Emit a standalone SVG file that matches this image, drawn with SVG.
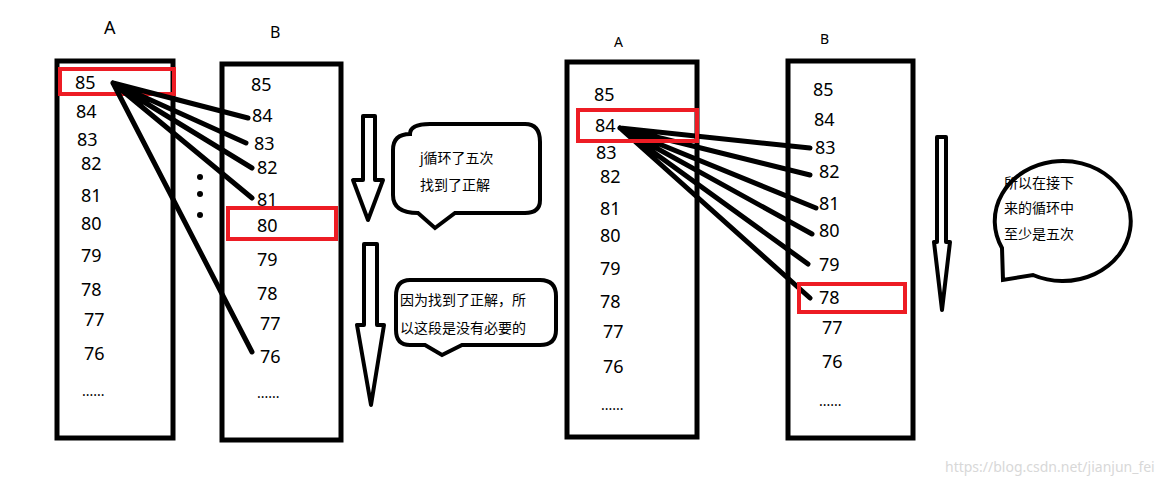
<svg xmlns="http://www.w3.org/2000/svg" width="1167" height="484" viewBox="0 0 1167 484">
<style>
text{font-family:"Noto Sans","Noto Sans CJK SC",sans-serif;fill:#000}
.n{font-size:18px}
.c{font-size:14px}
.box{fill:none;stroke:#000;stroke-width:5}
.red{fill:none;stroke:#ed1c24;stroke-width:4}
.ln{stroke:#000;stroke-width:5;stroke-linecap:round;fill:none}
.ar{fill:#fff;stroke:#000;stroke-width:4;stroke-linejoin:round}
</style>
<rect width="1167" height="484" fill="#fff"/>
<g id="left-A">
<text x="104" y="34" class="n">A</text>
<rect class="box" x="57" y="61" width="116" height="377"/>
<text class="n" x="75" y="89">85</text><text class="n" x="76" y="118">84</text><text class="n" x="77" y="146">83</text><text class="n" x="81" y="170">82</text><text class="n" x="81" y="202">81</text><text class="n" x="81" y="230">80</text><text class="n" x="81" y="262">79</text><text class="n" x="81" y="296">78</text><text class="n" x="84" y="326">77</text><text class="n" x="84" y="360">76</text><text class="c" x="82" y="396">......</text>
<rect class="red" x="60" y="69" width="114" height="25"/>
</g>
<g id="left-B">
<text x="270" y="38" font-size="16">B</text>
<rect class="box" x="222" y="64" width="119" height="376"/>
<text class="n" x="251" y="91">85</text><text class="n" x="252" y="122">84</text><text class="n" x="254" y="150">83</text><text class="n" x="257" y="174">82</text><text class="n" x="257" y="206">81</text><text class="n" x="257" y="232">80</text><text class="n" x="257" y="266">79</text><text class="n" x="257" y="300">78</text><text class="n" x="260" y="330">77</text><text class="n" x="260" y="363">76</text><text class="c" x="257" y="398">......</text>
<rect class="red" x="228" y="208" width="108" height="31"/>
</g>
<g id="dots"><circle cx="200" cy="177" r="3"/><circle cx="200" cy="194" r="3"/><circle cx="200" cy="215" r="3"/></g>
<g id="connectors">
<path class="ln" d="M113 83L248 118M113 83L246 143M113 83L252 168M113 83L252 198M113 83L252 352"/>
<path class="ln" d="M620 128L810 148M620 128L810 175M620 128L816 208M620 128L812 234M620 128L808 264M620 128L810 298"/>
<path class="ar" d="M363 116H375V180H383L368 220L353 180H363Z"/>
<path class="ar" d="M364 244H377V325H384L371 405L357 325H364Z"/>
<path class="ar" d="M937 137H946V242H950L942 310L934 242H937Z"/>
</g>
<g id="bubble1">
<path class="box" style="stroke-width:4" d="M410 134Q410 124 430 124H525Q540 124 540 142V200Q540 213 525 213H455L435 228L418 213Q393 213 393 195V150Q393 134 410 134Z"/>
<text class="c" x="420" y="163">j循环了五次</text><text class="c" x="420" y="190">找到了正解</text>
</g>
<g id="bubble2">
<path class="box" style="stroke-width:4" d="M410 280H540Q556 280 556 296V330Q556 345 540 345H462L442 355L425 345H410Q396 345 396 330V296Q396 280 410 280Z"/>
<text class="c" x="400" y="305">因为找到了正解，所</text><text class="c" x="400" y="333">以这段是没有必要的</text>
</g>
<g id="right-A">
<text x="614" y="47" font-size="14">A</text>
<rect class="box" x="567" y="62" width="130" height="375"/>
<text class="n" x="594" y="101">85</text><text class="n" x="595" y="132">84</text><text class="n" x="596" y="159">83</text><text class="n" x="600" y="183">82</text><text class="n" x="600" y="215">81</text><text class="n" x="600" y="242">80</text><text class="n" x="600" y="275">79</text><text class="n" x="600" y="308">78</text><text class="n" x="603" y="338">77</text><text class="n" x="603" y="373">76</text><text class="c" x="601" y="410">......</text>
<rect class="red" x="578" y="110" width="119" height="31"/>
</g>
<g id="right-B">
<text x="820" y="44" font-size="14">B</text>
<rect class="box" x="788" y="61" width="125" height="377"/>
<text class="n" x="813" y="96">85</text><text class="n" x="814" y="126">84</text><text class="n" x="815" y="154">83</text><text class="n" x="819" y="178">82</text><text class="n" x="819" y="210">81</text><text class="n" x="819" y="237">80</text><text class="n" x="819" y="271">79</text><text class="n" x="819" y="304">78</text><text class="n" x="822" y="334">77</text><text class="n" x="822" y="368">76</text><text class="c" x="819" y="406">......</text>
<rect class="red" x="799" y="284" width="106" height="28"/>
</g>
<g id="bubble3">
<path class="box" style="stroke-width:4" d="M1002 248A68 60 0 1 1 1033 275L1003 280Z"/>
<text class="c" x="1004" y="188">所以在接下</text><text class="c" x="1004" y="213">来的循环中</text><text class="c" x="1004" y="239">至少是五次</text>
</g>
<text x="945" y="472" font-size="14" font-family="Liberation Sans,sans-serif" fill="#d8d8d8" style="fill:#d8d8d8">https://blog.csdn.net/jianjun_fei</text>
</svg>
